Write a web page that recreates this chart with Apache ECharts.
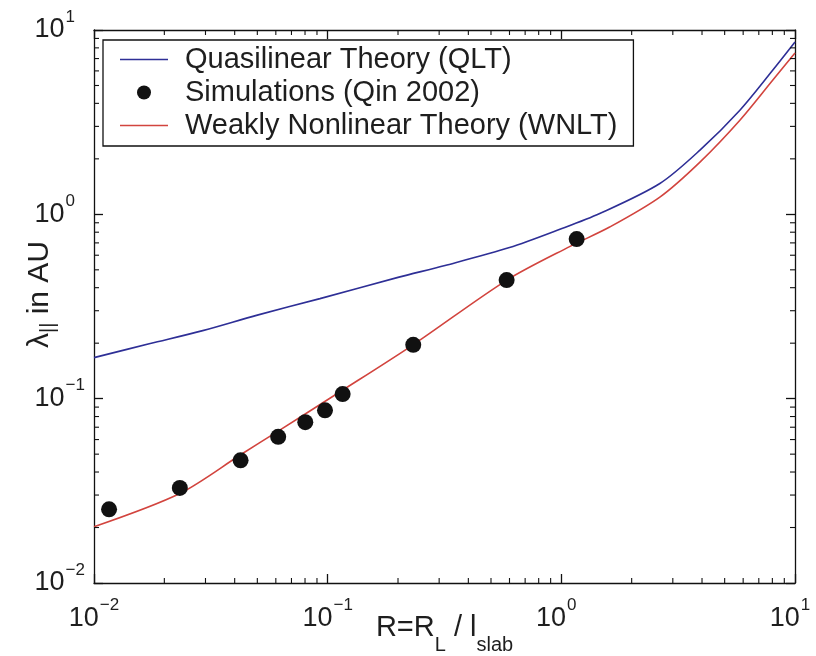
<!DOCTYPE html>
<html>
<head>
<meta charset="utf-8">
<script src="https://cdn.jsdelivr.net/npm/echarts@6/dist/echarts.min.js"></script>
<style>
  html, body { margin: 0; padding: 0; background: #fff; }
  #chart { width: 816px; height: 656px; }
</style>
</head>
<body>
<div id="chart"></div>
<script>
// ---- data ----
const qltX = [0.01, 0.0174, 0.0292, 0.05, 0.0927, 0.2, 0.318, 0.6, 0.986, 1.46, 2.64, 3.92, 5.81, 8.04, 10];
const qltY = [0.167, 0.199, 0.234, 0.284, 0.349, 0.455, 0.528, 0.66, 0.829, 1.01, 1.47, 2.23, 3.67, 6.06, 8.6];

const simX = [0.0116, 0.0233, 0.0424, 0.0614, 0.0802, 0.0974, 0.1159, 0.2324, 0.5833, 1.163];
const simY = [0.0251, 0.0328, 0.0463, 0.0621, 0.0746, 0.0864, 0.1059, 0.196, 0.44, 0.734];

const wnltX = [0.01, 0.0233, 0.0424, 0.0614, 0.113, 0.232, 0.585, 1.09, 1.61, 2.64, 3.92, 5.81, 8.04, 10];
const wnltY = [0.0202, 0.0306, 0.0496, 0.0667, 0.109, 0.196, 0.44, 0.67, 0.853, 1.24, 1.92, 3.24, 5.35, 7.5];

const seriesNames = ['Quasilinear Theory (QLT)', 'Simulations (Qin 2002)', 'Weakly Nonlinear Theory (WNLT)'];
const xRange = [0.01, 10];
const yRange = [0.01, 10];
const minorMultipliers = [2, 3, 4, 5, 6, 7, 8, 9];
const decadeStarts = [0.01, 0.1, 1];

// ---- build ----
const zip = (a, b) => a.map((v, i) => [v, b[i]]);
const minorVals = [];
decadeStarts.forEach(d => minorMultipliers.forEach(m => minorVals.push(+(d * m).toPrecision(3))));

const FONT = '"Liberation Sans", Arial, Helvetica, sans-serif';
const TXT = '#1e1e1e';
const powLabel = v => {
  const e = Math.round(Math.log10(v));
  const txt = e < 0 ? '\u2212' + (-e) : String(e);
  return '{b|10}{' + (txt.length > 1 ? 's' : 's1') + '|' + txt + '}';
};
const labelRich = {
  b: { fontSize: 27, fontFamily: FONT, color: TXT },
  s: { fontSize: 17, fontFamily: FONT, color: TXT, padding: [0, 0, 26, 1] },
  s1: { fontSize: 17, fontFamily: FONT, color: TXT, padding: [0, 10, 26, 1] }
};

const axisLineStyle = { color: '#111', width: 1.3 };
const lineIcon = 'path://M0,0 H60 V1.8 H0 Z';

const chart = echarts.init(document.getElementById('chart'), null, { renderer: 'canvas' });
chart.setOption({
  backgroundColor: '#fff',
  animation: false,
  grid: { left: 94, right: 21, top: 30, bottom: 73, containLabel: false, outerBoundsMode: 'none' },
  legend: {
    orient: 'vertical',
    left: 103,
    top: 40,
    data: [
      { name: seriesNames[0], icon: lineIcon },
      { name: seriesNames[1], icon: 'circle' },
      { name: seriesNames[2], icon: lineIcon }
    ],
    backgroundColor: '#fff',
    borderColor: '#111',
    borderWidth: 1.3,
    borderRadius: 0,
    padding: [5, 16, 6, 17],
    itemWidth: 48,
    itemHeight: 14,
    itemGap: 4,
    textStyle: { fontSize: 29, fontFamily: FONT, color: TXT, lineHeight: 28, padding: [0, 0, 0, 12] }
  },
  xAxis: [
    {
      type: 'log', logBase: 10, min: xRange[0], max: xRange[1],
      name: '{n|R=R}{sub|L}{n| / l}{sub|slab}',
      nameLocation: 'middle', nameGap: 18, nameMoveOverlap: false,
      nameTextStyle: {
        rich: {
          n: { fontSize: 29, fontFamily: FONT, color: TXT },
          sub: { fontSize: 20, fontFamily: FONT, color: TXT, padding: [34, 0, 0, 0] }
        }
      },
      axisLine: { show: true, lineStyle: axisLineStyle },
      axisTick: { show: true, inside: true, length: 9, lineStyle: axisLineStyle },
      axisLabel: { formatter: powLabel, rich: labelRich, margin: 14, color: TXT },
      splitLine: { show: false }
    },
    {
      type: 'log', logBase: 10, min: xRange[0], max: xRange[1], position: 'top',
      axisLine: { show: true, lineStyle: axisLineStyle },
      axisTick: { show: true, inside: true, length: 9, lineStyle: axisLineStyle },
      axisLabel: { show: false },
      splitLine: { show: false }
    }
  ],
  yAxis: [
    {
      type: 'log', logBase: 10, min: yRange[0], max: yRange[1],
      name: '{n|\u03bb}{sub|||}{n| in AU}',
      nameLocation: 'middle', nameGap: 36, nameMoveOverlap: false,
      nameTextStyle: {
        padding: [0, 0, 0, 24],
        rich: {
          n: { fontSize: 30, fontFamily: FONT, color: TXT },
          sub: { fontSize: 20, fontFamily: FONT, color: TXT, padding: [16, 0, 0, 0] }
        }
      },
      axisLine: { show: true, lineStyle: axisLineStyle },
      axisTick: { show: true, inside: true, length: 9, lineStyle: axisLineStyle },
      axisLabel: { formatter: powLabel, rich: labelRich, margin: 9, color: TXT },
      splitLine: { show: false }
    },
    {
      type: 'log', logBase: 10, min: yRange[0], max: yRange[1], position: 'right',
      axisLine: { show: true, lineStyle: axisLineStyle },
      axisTick: { show: true, inside: true, length: 9, lineStyle: axisLineStyle },
      axisLabel: { show: false },
      splitLine: { show: false }
    }
  ],
  series: [
    {
      name: seriesNames[0], type: 'line', data: zip(qltX, qltY),
      symbol: 'none', smooth: 0.3,
      lineStyle: { color: '#2e2f96', width: 1.6 },
      itemStyle: { color: '#2e2f96' }, z: 3
    },
    {
      name: seriesNames[1], type: 'scatter', data: zip(simX, simY),
      symbol: 'circle', symbolSize: 16,
      itemStyle: { color: '#111', opacity: 1 }, z: 5
    },
    {
      name: seriesNames[2], type: 'line', data: zip(wnltX, wnltY),
      symbol: 'none', smooth: 0.3,
      lineStyle: { color: '#d2443e', width: 1.6 },
      itemStyle: { color: '#d2443e' }, z: 4
    },
    {
      name: 'xMinorTicks', type: 'custom', silent: true, clip: false, z: 6,
      data: minorVals.map(v => [v, yRange[0]]),
      renderItem: (params, api) => {
        const v = api.value(0);
        const b = api.coord([v, yRange[0]]);
        const t = api.coord([v, yRange[1]]);
        const st = { stroke: '#111', lineWidth: 1.1 };
        return { type: 'group', children: [
          { type: 'line', shape: { x1: b[0], y1: b[1], x2: b[0], y2: b[1] - 5 }, style: st },
          { type: 'line', shape: { x1: t[0], y1: t[1], x2: t[0], y2: t[1] + 5 }, style: st }
        ]};
      }
    },
    {
      name: 'yMinorTicks', type: 'custom', silent: true, clip: false, z: 6,
      data: minorVals.map(v => [xRange[0], v]),
      renderItem: (params, api) => {
        const v = api.value(1);
        const l = api.coord([xRange[0], v]);
        const r = api.coord([xRange[1], v]);
        const st = { stroke: '#111', lineWidth: 1.1 };
        return { type: 'group', children: [
          { type: 'line', shape: { x1: l[0], y1: l[1], x2: l[0] + 5, y2: l[1] }, style: st },
          { type: 'line', shape: { x1: r[0], y1: r[1], x2: r[0] - 5, y2: r[1] }, style: st }
        ]};
      }
    }
  ]
});
</script>
</body>
</html>
